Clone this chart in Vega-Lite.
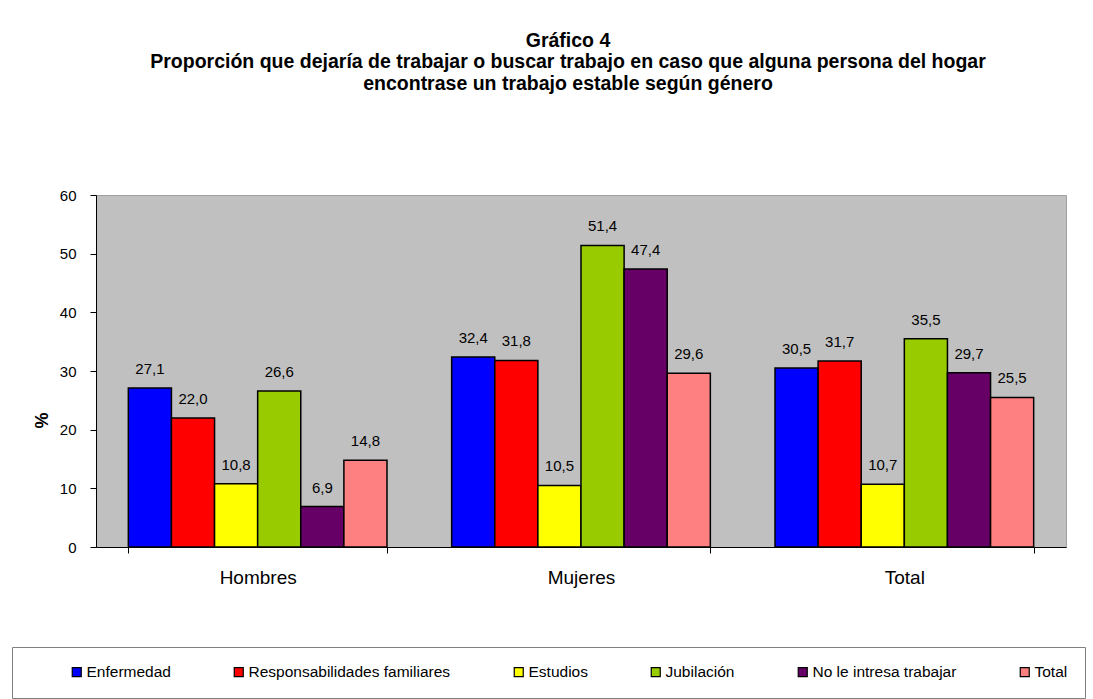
{
  "$schema": "https://vega.github.io/schema/vega-lite/v6.json",
  "autosize": {"type": "none"},
  "width": 970,
  "height": 352,
  "padding": {"left": 96, "top": 195, "right": 27, "bottom": 152},
  "background": "white",
  "title": {
    "text": ["Gráfico 4", "Proporción que dejaría de trabajar o buscar trabajo en caso que alguna persona del hogar", "encontrase un trabajo estable según género"],
    "font": "Liberation Sans",
    "fontSize": 19.5,
    "fontWeight": "bold",
    "lineHeight": 21.5,
    "offset": 94,
    "anchor": "middle",
    "dx": -13,
    "color": "black"
  },
  "config": {
    "locale": {"number": {"decimal": ",", "thousands": ".", "grouping": [3], "currency": ["", ""]}},
    "view": {"fill": "#C0C0C0", "stroke": "#A0A0A0"},
    "font": "Liberation Sans"
  },
  "data": {
    "values": [
      {"genero": "Hombres", "motivo": "Enfermedad", "pct": 27.1},
      {"genero": "Hombres", "motivo": "Responsabilidades familiares", "pct": 22.0},
      {"genero": "Hombres", "motivo": "Estudios", "pct": 10.8},
      {"genero": "Hombres", "motivo": "Jubilación", "pct": 26.6},
      {"genero": "Hombres", "motivo": "No le intresa trabajar", "pct": 6.9},
      {"genero": "Hombres", "motivo": "Total", "pct": 14.8},
      {"genero": "Mujeres", "motivo": "Enfermedad", "pct": 32.4},
      {"genero": "Mujeres", "motivo": "Responsabilidades familiares", "pct": 31.8},
      {"genero": "Mujeres", "motivo": "Estudios", "pct": 10.5},
      {"genero": "Mujeres", "motivo": "Jubilación", "pct": 51.4},
      {"genero": "Mujeres", "motivo": "No le intresa trabajar", "pct": 47.4},
      {"genero": "Mujeres", "motivo": "Total", "pct": 29.6},
      {"genero": "Total", "motivo": "Enfermedad", "pct": 30.5},
      {"genero": "Total", "motivo": "Responsabilidades familiares", "pct": 31.7},
      {"genero": "Total", "motivo": "Estudios", "pct": 10.7},
      {"genero": "Total", "motivo": "Jubilación", "pct": 35.5},
      {"genero": "Total", "motivo": "No le intresa trabajar", "pct": 29.7},
      {"genero": "Total", "motivo": "Total", "pct": 25.5}
    ]
  },
  "encoding": {
    "x": {
      "field": "genero",
      "type": "nominal",
      "sort": ["Hombres", "Mujeres", "Total"],
      "scale": {"paddingInner": 0.2, "paddingOuter": 0.1},
      "axis": {
        "title": null,
        "tickBand": "extent",
        "tickSize": 6,
        "labelFontSize": 19,
        "labelPadding": 15,
        "labelAngle": 0,
        "domainColor": "black",
        "tickColor": "black",
        "labelColor": "black"
      }
    },
    "xOffset": {
      "field": "motivo",
      "type": "nominal",
      "sort": ["Enfermedad", "Responsabilidades familiares", "Estudios", "Jubilación", "No le intresa trabajar", "Total"],
      "scale": {"paddingInner": 0, "paddingOuter": 0}
    },
    "y": {
      "field": "pct",
      "type": "quantitative",
      "scale": {"domain": [0, 60]},
      "axis": {
        "values": [0, 10, 20, 30, 40, 50, 60],
        "grid": false,
        "domainColor": "black",
        "tickColor": "black",
        "tickSize": 6,
        "labelFontSize": 15,
        "labelPadding": 14,
        "labelColor": "black",
        "title": "%",
        "titleFontSize": 18,
        "titleFontWeight": "bold",
        "titleColor": "black",
        "titleAngle": -90,
        "titleX": -54,
        "titleY": 225,
        "titleAlign": "center",
        "titleBaseline": "middle"
      }
    }
  },
  "layer": [
    {
      "mark": {"type": "bar", "stroke": "black", "strokeWidth": 1.5},
      "encoding": {
        "color": {
          "field": "motivo",
          "type": "nominal",
          "sort": ["Enfermedad", "Responsabilidades familiares", "Estudios", "Jubilación", "No le intresa trabajar", "Total"],
          "scale": {
            "domain": ["Enfermedad", "Responsabilidades familiares", "Estudios", "Jubilación", "No le intresa trabajar", "Total"],
            "range": ["#0000FF", "#FF0000", "#FFFF00", "#99CC00", "#660066", "#FF8080"]
          },
          "legend": {
            "orient": "none",
            "legendX": -84,
            "legendY": 452,
            "direction": "horizontal",
            "columns": 6,
            "title": " ",
            "titleOrient": "left",
            "titlePadding": 40,
            "padding": 17,
            "strokeColor": "#808080",
            "columnPadding": 60,
            "labelFontSize": 15.5,
            "labelLimit": 400,
            "labelColor": "black",
            "labelOffset": 2,
            "symbolType": "square",
            "symbolSize": 81,
            "symbolStrokeColor": "black",
            "symbolStrokeWidth": 1.2,
            "symbolOpacity": 1
          }
        }
      }
    },
    {
      "mark": {"type": "text", "dy": -14, "baseline": "alphabetic", "fontSize": 15, "color": "black"},
      "encoding": {
        "text": {"field": "pct", "type": "quantitative", "format": ".1f"}
      }
    }
  ]
}
